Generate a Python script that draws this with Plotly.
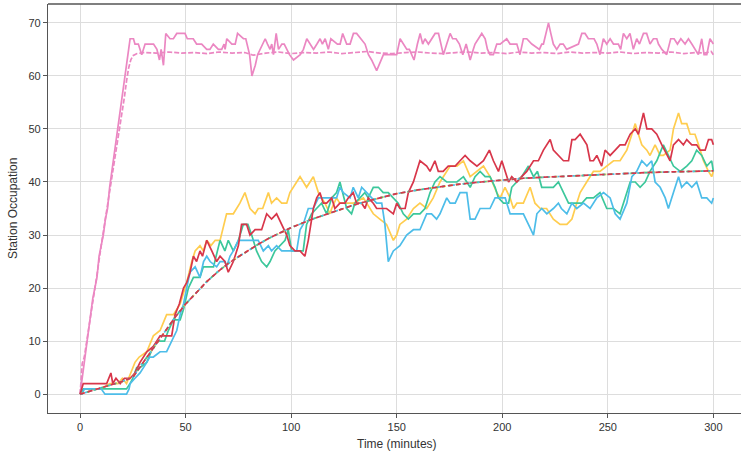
import plotly.graph_objects as go

# ---------------- data ----------------
pink_t = [0,1,2,3,4,5,6,7,8,9,10,11,12,13,14,15,16,17,18,19,20,21,22,23,23.7,25.3,26,27.6,29.2,30.8,34.8,36.4,37.6,38.4,39.5,40.6,42.6,44.2,45.8,49.7,50.8,53.6,55.2,57.6,60,61.5,63.1,65.5,67.1,68.2,68.7,69.5,71.9,73.5,74.6,77.4,78.5,80.3,81.4,83,84.1,85.3,86.6,87.7,88.8,90,90.8,91.6,92.9,94,95.6,96.7,99.2,101.1,104.3,105.8,107.4,109,110.6,112.2,113.7,114.8,116.1,117.6,118.8,121.9,123.2,124.4,126.3,127.9,129.5,131,135,136.6,138.1,140.5,143.7,145.3,146.8,148.1,150,151.6,153.2,154.8,156,157.1,158.2,159.8,161.1,162.3,163.4,165,166.6,168.2,169.8,170.9,172.1,173.7,175.3,176.5,178.1,179.7,181.3,182.9,184.8,186.3,187.1,188.7,190.3,191.9,193,194.2,195.8,197.4,199,202.1,203.7,205.3,206.9,208.4,210,211.6,214,217.6,218.7,219.5,220.8,221.9,223,224.2,225.8,227.4,228.9,230.5,236.1,237.7,239.2,240.8,242.4,243.5,244.8,246.3,247.9,249.5,251.1,252.7,255,256.1,257.4,259,260.5,262.1,263.7,265,266.9,268.4,270,271.6,273.2,274,275.6,277.9,279.8,281.4,283,284.6,286.6,288.2,289.8,291.3,292.9,294.5,295.6,296.9,298.4,300]
pink_v = [0,3,6,9,12,16,18,20,22,26,28,30,33,35,39,42,45,47,51,54,56,59,62,65,67,67,66,66,64,66,66,65,63,65,62,68,67,67,68,68,67,67,66,66,65,65,66,65,65,66,65,67,66,66,68,67,67,64,60,62,64,65,66,67,66,65,66,64,68,65,66,66,64,63,64,65,67,66,65,66,67,66,67,65,67,66,66,68,66,66,68,68,66,64,63,61,64,64,64,64,64,67,66,65,65,64,63,66,68,66,67,66,67,68,68,66,64,66,68,67,67,66,64,66,63,65,66,67,68,67,65,64,64,66,66,67,66,66,66,64,67,67,66,65,66,66,68,70,68,66,65,66,66,65,66,68,68,67,67,67,66,64,67,66,67,66,66,65,68,67,68,65,67,66,68,68,66,67,67,66,65,64,67,67,66,67,66,67,66,65,64,67,64,64,67,66,67,67]

pinkm_t = [0,1,2,4,6,8,10,12,14,16,18,20,21,22,23,24,25,27,30,36,42,48,54,60,66,72,78,82,88,94,100,106,112,118,124,130,136,142,148,154,160,166,172,178,184,190,196,202,208,214,220,226,232,238,244,250,256,262,268,274,280,286,292,296,299,300]
pinkm_v = [0,5.8,7,12,17.5,22.5,28,33,38,43,48.5,53.5,56,59,61.5,63,63.8,64.2,64.4,64.3,64.5,64.3,64.4,64.2,64.5,64.3,64.4,63.9,64.3,64.5,64.2,64.4,64.3,64.5,64.2,64.4,64.6,64.3,64.2,64.4,64.5,64.3,64.2,64.4,64.5,64.3,64.4,64.2,64.5,64.3,64.4,64.2,64.5,64.3,64.4,64.3,64.5,64.2,64.4,64.3,64.5,64.2,64.4,64.3,64.6,64.0]

yellow_t = [0,2,6,10,14,18,20,22,24,26,28,31.6,34.7,37.9,41,44.2,47.4,50.5,52.9,54.5,56.8,58.4,60,62,64,66.3,69.4,72.6,75.7,78.1,80.5,82.9,84.4,86.5,89.2,90.7,93.1,95.5,97.9,99.4,102.6,104.2,107.3,110.5,112.9,116,118.4,119.2,121.5,123,126.3,129.5,134.2,137.3,138.9,142,145.2,148.4,150,151.5,154.7,157.9,161,164.2,167.3,170.5,173.7,175.3,178.5,181.6,184.8,188,191.1,194.2,197.4,199,201.3,203.7,205.3,206.9,210,213.2,215.5,218,221,224.2,227.4,230.6,233,234.5,236.9,240,243.2,246.3,249.5,252.7,255.8,259,261.4,263,264.5,266.1,268.5,270,272.4,274.8,276.3,279.5,281.1,283.5,285,287.4,289,291.3,293,295.3,297.7,299.2,300]
yellow_v = [0,1,1,1,2,2,3,2,4,6,7,8,11,12,15,15,17,21,25,27,28,27,29,28,29,29,34,34,36,38,35,34,35,35,38,36,37,36,36,38,40,41,39,41,38,36,34,35,37,36,36,36,37,35,34,33,32,29,30,32,33,35,36,35,37,40,42,43,43,44,41,42,43,41,38,37,39,37,35,36,36,39,36,35,35,33,32,32,33,35,38,40,42,42,43,44,44,46,49,51,49,47,46,45,47,45,45,46,50,53,51,51,49,49,47,44,42,41,42]

green_t = [0,1.5,5,10,15,20,22,23.7,25,26.8,28.4,31.6,34.7,37.1,40,41.8,44.2,47.4,49,51.3,53.7,56.8,58.4,60,63.2,66.3,68.6,70.2,72.6,75,77.3,79.5,81.3,83.6,86,88.4,90,92.3,94.7,97.1,98.6,100.2,102.6,105.7,107.3,109.7,112,114.4,116.8,119.2,121.5,123.1,126.3,128.6,130.2,132.6,134.9,136.5,138.9,141.3,143.6,146,148.4,150.7,153.1,155.5,157.9,161,163.4,165.8,168.1,170.5,173.7,175.3,178.5,181.6,184.8,187.1,189.5,191.9,194.2,196.6,198.2,200.6,203,204.5,206.9,209.2,212.4,214.8,216.7,218.7,221,224.2,226.6,229,231.4,234.5,237.7,240,243.2,246.3,249.5,252.7,255.8,258.2,260.6,263,265.3,267.7,270,273.2,276.3,278.7,281.1,284.3,287.4,289.8,292.1,294.5,296.9,299.2,300]
green_v = [0,1,1,1,1,1,1,2,3,5,5,6,9,10,10,12,14,14,16,20,22,22,24,24,24,29,27,29,27,29,32,32,30,27,25,24,25,27,28,29,31,27,27,27,32,34,35,36,34,37,38,40,35,34,36,37,38,37,39,39,38,38,37,36,34,33,34,34,35,38,40,41,40,40,40,41,39,41,42,41,41,39,37,36,36,39,40,41,43,41,42,39,39,39,40,38,36,36,36,37,37,38,35,35,34,37,40,40,39,40,42,44,47,45,43,42,43,44,46,45,43,44,42]

blue_t = [0,1,2,5,8,10,11.8,15,18,22,23.2,23.7,26,28.4,31.6,33,34.7,37.9,41,43.4,45.8,47.4,49,50.5,52.1,54.5,56.8,58.5,60,61.6,64.7,66.3,68.7,69.4,71,72.6,75,78.1,80,82.1,84.4,86.8,89.2,90.7,93.1,95.5,97.9,99.4,102.6,104.2,105.7,108.1,110.5,112.9,115,117.6,120,121.5,123.1,124.7,127.9,129.4,131.8,133.4,135.8,138.1,140.5,142.9,144.4,146,148.4,151.5,154.7,157.9,161,164.2,166.5,168.9,170.5,173.7,175.3,177.7,180,183.2,184.8,187.1,189.5,191.9,194.2,196.6,198.9,201.4,203.7,206.9,210,212.4,214.8,216.4,218.7,221.1,224.2,226.6,228,230.6,233,235.3,238.5,241.6,244.8,248,251.1,253.5,255.8,259,261.4,263.7,266.1,268.5,270.8,272.4,274.8,277.2,278.7,281.1,283.5,285,287.4,289.8,292.1,294.5,296.9,299.2,300]
blue_v = [0,0,1,1,1,1,0,0,0,0,1,2,3,4,6,7,7,8,8,10,12,15,17,20,23,24,22,25,26,25,24,25,25,24,26,27,29,29,29,29,29,27,28,27,28,27,27,27,27,31,32,35,35,37,37,37,37,37,39,38,37,39,37,39,38,37,36,36,32,25,27,28,30,31,31,34,34,33,34,37,36,36,38,38,33,33,35,35,35,37,37,37,34,34,34,32,30,34,35,34,35,36,35,34,36,35,36,35,37,38,37,34,33,36,41,42,44,43,44,40,39,37,35,38,41,39,40,39,40,37,37,36,37]

red_t = [0,1.5,5,8,12.6,14.6,15.5,17,19,21,23.7,26,28.4,31.6,34.7,37.9,40,43.4,45,47,49,50.5,52.1,53.7,55.2,56.8,58,60,62.4,64.7,66.3,68.6,70.2,72.6,75,76.5,78.9,80.5,82.9,86,88.4,90.7,93.1,95.5,97.9,99.4,101.8,104.2,106.5,108.1,110.5,112.1,113.6,115.2,116.8,119.2,120.7,123.1,125.5,127.1,129.4,131,133.4,135,136.5,138.9,140.5,142.9,145.2,148.4,150,151.5,154,155.5,157.9,161,164.2,165.8,168.1,169.7,172,174.4,177.7,180,182.4,184.8,188,191.1,193.9,195.8,198.2,199.8,201.4,203,204.5,206.9,209.2,211.6,214.8,217.1,219.5,221.1,222.7,224.2,226.6,229,231.4,233,234.5,236.9,238.5,240.1,241.6,243.2,244.8,247.1,248.7,251.1,253.5,255.8,258.2,260.6,263,264.5,266.9,268.5,270.8,273.2,275.6,278,279.5,281.1,283.5,285.8,287.4,289.8,292.1,293.7,296.1,297.7,299.2,300]
red_v = [0,2,2,2,2,4,2,3,2,3,3,4,6,8,9,11,11,11,15,17,20,21,23,26,25,27,26,29,27,25,26,25,23,25,28,32,32,30,31,31,34,33,34,32,30,28,27,27,26,29,35,37,38,36,36,37,35,36,36,37,38,36,36,35,37,36,35,35,35,34,36,35,35,38,40,44,43,42,44,42,42,43,43,44,45,44,43,44,46,44,42,44,42,40,41,40,41,42,44,44,46,47,48,46,45,44,44,48,48,49,48,47,44,44,45,43,46,45,46,47,47,49,50,49,53,50,50,49,47,45,44,47,48,47,48,47,47,46,46,48,48,47]

mean_t = [0,5,10,15,20,25,30,35,40,45,50,55,60,65,70,75,80,85,90,95,100,110,120,130,140,150,160,170,180,190,200,210,220,230,240,250,260,270,280,290,300]
mean_v = [0,0.6,1.2,1.8,2.4,3.2,6.0,9.0,11.8,14.5,17.0,19.2,21.2,23.0,24.6,25.9,27.2,28.4,29.5,30.5,31.4,33.0,34.4,35.7,36.8,37.8,38.5,39.1,39.6,40.0,40.4,40.7,40.9,41.1,41.3,41.5,41.7,41.8,41.9,42.0,42.1]

x_ticks = [0, 50, 100, 150, 200, 250, 300]
y_ticks = [0, 10, 20, 30, 40, 50, 60, 70]
x_title = "Time (minutes)"
y_title = "Station Occupation"

PINK = "#eb87c2"
YELLOW = "#ffcd4f"
GREEN = "#3cc79b"
BLUE = "#4dbde9"
RED = "#d8364a"

fig = go.Figure()
LW = 1.7
fig.add_trace(go.Scatter(x=pink_t, y=pink_v, mode="lines", line=dict(color=PINK, width=LW)))
fig.add_trace(go.Scatter(x=pinkm_t, y=pinkm_v, mode="lines", line=dict(color=PINK, width=LW, dash="5px,2px")))
for t, v, c in [(yellow_t, yellow_v, YELLOW), (green_t, green_v, GREEN),
                (blue_t, blue_v, BLUE), (red_t, red_v, RED)]:
    fig.add_trace(go.Scatter(x=t, y=v, mode="lines", line=dict(color=c, width=LW)))
for c, d in [(YELLOW, "4px,3px"), (GREEN, "3px,4px"), (BLUE, "2px,3px"), (RED, "5px,3px")]:
    fig.add_trace(go.Scatter(x=mean_t, y=mean_v, mode="lines", line=dict(color=c, width=LW, dash=d)))

tick_font = dict(family="Liberation Sans, Arial, sans-serif", size=11, color="#333333")
title_font = dict(family="Liberation Sans, Arial, sans-serif", size=12, color="#333333")
fig.update_layout(
    width=741, height=451,
    margin=dict(l=48, r=0, t=4, b=38, autoexpand=False),
    paper_bgcolor="white", plot_bgcolor="white",
    showlegend=False,
    font=tick_font,
    xaxis=dict(range=[-15.2, 313.1], tickvals=x_ticks, showgrid=True, gridcolor="#dddddd", gridwidth=1,
               zeroline=False, showline=True, linecolor="#555555", linewidth=1.3, automargin=False,
               ticks="outside", ticklen=4, tickcolor="#555555", tickfont=tick_font),
    yaxis=dict(range=[-3.55, 73.55], tickvals=y_ticks, showgrid=True, gridcolor="#dddddd", gridwidth=1,
               zeroline=False, showline=True, linecolor="#555555", linewidth=1.3, automargin=False,
               ticks="outside", ticklen=4, tickcolor="#555555", tickfont=tick_font),
    shapes=[dict(type="line", xref="paper", yref="paper", x0=0, x1=1, y0=1, y1=1,
                 line=dict(color="#555555", width=1.3))],
    annotations=[
        dict(text=x_title, xref="x", yref="paper", x=150, y=0, yshift=-31,
             xanchor="center", yanchor="middle", showarrow=False, font=title_font),
        dict(text=y_title, xref="paper", yref="paper", x=0, y=0.5, xshift=-35.5, textangle=-90,
             xanchor="center", yanchor="middle", showarrow=False, font=title_font),
    ],
)
fig.write_html("out.html", config={"displayModeBar": False},
               post_script="document.body.style.margin='0';document.body.style.overflow='hidden';")
